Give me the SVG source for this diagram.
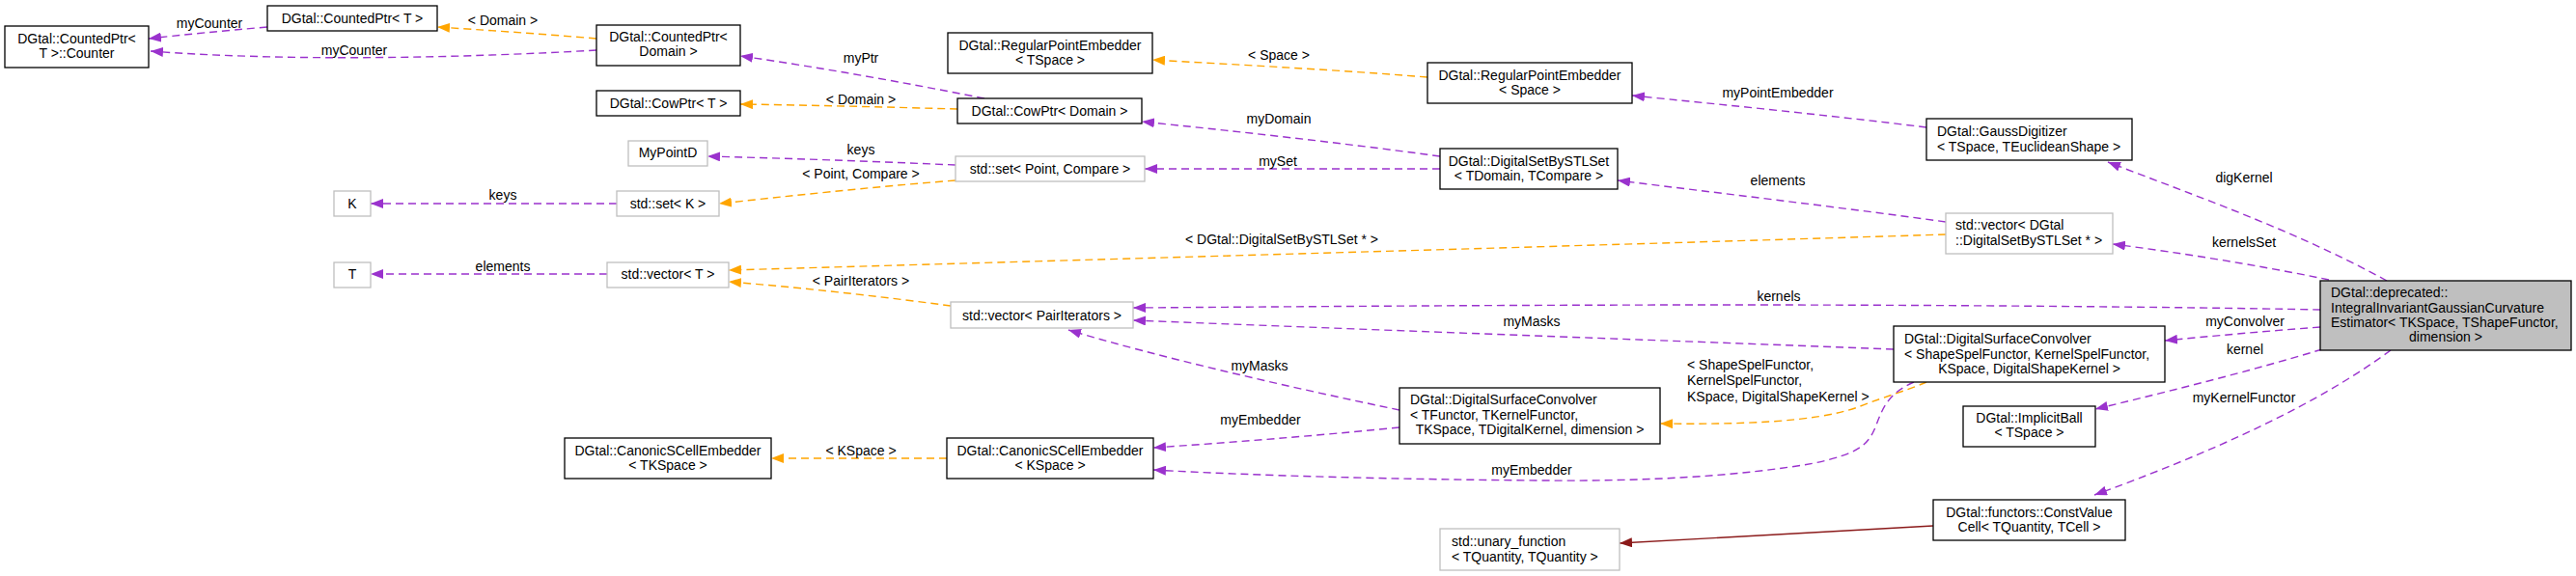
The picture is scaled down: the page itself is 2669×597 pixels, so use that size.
<svg xmlns="http://www.w3.org/2000/svg" width="2669" height="597" viewBox="0 0 2669 597">
<style>
text{font-family:"Liberation Sans",Arial,sans-serif;font-size:14px;fill:#000}
.c{text-anchor:middle}
.b rect{fill:#fff;stroke:#000;stroke-width:1.3}
.g rect{fill:#fff;stroke:#bfbfbf;stroke-width:1.3}
.m rect{fill:#bfbfbf;stroke:#000;stroke-width:1.3}
.p{fill:none;stroke:#9a32cd;stroke-width:1.4;stroke-dasharray:8,5}
.o{fill:none;stroke:#ffa500;stroke-width:1.4;stroke-dasharray:8,5}
.r{fill:none;stroke:#8b1a1a;stroke-width:1.4}
</style>
<defs>
<marker id="ap" markerUnits="userSpaceOnUse" markerWidth="14" markerHeight="10" refX="13" refY="5" orient="auto"><path d="M0,0 L13,5 L0,10 z" fill="#9a32cd"/></marker>
<marker id="ao" markerUnits="userSpaceOnUse" markerWidth="14" markerHeight="10" refX="13" refY="5" orient="auto"><path d="M0,0 L13,5 L0,10 z" fill="#ffa500"/></marker>
<marker id="ar" markerUnits="userSpaceOnUse" markerWidth="14" markerHeight="10" refX="13" refY="5" orient="auto"><path d="M0,0 L13,5 L0,10 z" fill="#8b1a1a"/></marker>
</defs>
<rect width="2669" height="597" fill="#fff"/>
<g id="connectors">
<path class="p" marker-end="url(#ap)" d="M277,28 C230,32 190,36 154,40"/>
<text class="c" x="217" y="29">myCounter</text>
<path class="p" marker-end="url(#ap)" d="M618,52 C480,60 300,64 156,53"/>
<text class="c" x="367" y="57">myCounter</text>
<path class="o" marker-end="url(#ao)" d="M618,40 C560,35 500,31 453,28"/>
<text class="c" x="521" y="26">&lt; Domain &gt;</text>
<path class="p" marker-end="url(#ap)" d="M1020,102 C940,86 850,70 767,58"/>
<text class="c" x="892" y="65">myPtr</text>
<path class="o" marker-end="url(#ao)" d="M992,113 C920,111 840,109 767,108"/>
<text class="c" x="892" y="108">&lt; Domain &gt;</text>
<path class="p" marker-end="url(#ap)" d="M1492,162 C1390,148 1280,136 1183,126"/>
<text class="c" x="1325" y="128">myDomain</text>
<path class="p" marker-end="url(#ap)" d="M1492,175 L1186,175"/>
<text class="c" x="1324" y="172">mySet</text>
<path class="p" marker-end="url(#ap)" d="M990,171 C900,167 810,164 733,162"/>
<text class="c" x="892" y="160">keys</text>
<path class="o" marker-end="url(#ao)" d="M990,187 C900,194 820,203 745,211"/>
<text class="c" x="892" y="185">&lt; Point, Compare &gt;</text>
<path class="p" marker-end="url(#ap)" d="M639,211 L384,211"/>
<text class="c" x="521" y="207">keys</text>
<path class="p" marker-end="url(#ap)" d="M629,284 L384,284"/>
<text class="c" x="521" y="281">elements</text>
<path class="o" marker-end="url(#ao)" d="M2016,243 C1600,256 1100,270 755,280"/>
<text class="c" x="1328" y="253">&lt; DGtal::DigitalSetBySTLSet * &gt;</text>
<path class="o" marker-end="url(#ao)" d="M985,317 C910,307 830,298 755,292"/>
<text class="c" x="892" y="296">&lt; PairIterators &gt;</text>
<path class="p" marker-end="url(#ap)" d="M2016,230 C1900,214 1780,200 1676,187"/>
<text class="c" x="1842" y="192">elements</text>
<path class="p" marker-end="url(#ap)" d="M1996,132 C1900,120 1790,109 1691,99"/>
<text class="c" x="1842" y="101">myPointEmbedder</text>
<path class="o" marker-end="url(#ao)" d="M1479,80 C1380,72 1280,67 1194,62"/>
<text class="c" x="1325" y="62">&lt; Space &gt;</text>
<path class="p" marker-end="url(#ap)" d="M2473,291 C2380,240 2280,205 2184,168"/>
<text class="c" x="2325" y="189">digKernel</text>
<path class="p" marker-end="url(#ap)" d="M2413,290 C2340,275 2260,262 2189,253"/>
<text class="c" x="2325" y="256">kernelsSet</text>
<path class="p" marker-end="url(#ap)" d="M2404,321 C2250,318 2000,316 1800,316 C1550,316 1330,318 1174,319"/>
<text class="c" x="1843" y="312">kernels</text>
<path class="p" marker-end="url(#ap)" d="M1962,362 C1700,352 1400,341 1174,332"/>
<text class="c" x="1587" y="338">myMasks</text>
<path class="p" marker-end="url(#ap)" d="M2404,339 C2350,343 2295,348 2243,353"/>
<text class="c" x="2326" y="338">myConvolver</text>
<path class="p" marker-end="url(#ap)" d="M2406,362 C2330,385 2250,405 2171,424"/>
<text class="c" x="2326" y="367">kernel</text>
<path class="p" marker-end="url(#ap)" d="M2477,363 C2420,405 2330,455 2170,513"/>
<text class="c" x="2325" y="417">myKernelFunctor</text>
<path class="o" marker-end="url(#ao)" d="M1996,396 C1975,405 1950,412 1925,422 C1880,438 1800,440 1720,439"/>
<text x="1748" y="383">&lt; ShapeSpelFunctor,</text>
<text x="1748" y="399">KernelSpelFunctor,</text>
<text x="1748" y="416">KSpace, DigitalShapeKernel &gt;</text>
<path class="p" marker-end="url(#ap)" d="M1983,396 C1955,408 1950,425 1943,443 C1935,462 1925,470 1880,480 C1800,494 1700,499 1600,498 C1450,497 1300,493 1195,487"/>
<text class="c" x="1587" y="492">myEmbedder</text>
<path class="p" marker-end="url(#ap)" d="M1450,425 C1330,400 1200,370 1107,342"/>
<text class="c" x="1305" y="384">myMasks</text>
<path class="p" marker-end="url(#ap)" d="M1450,443 C1360,452 1270,459 1195,464"/>
<text class="c" x="1306" y="440">myEmbedder</text>
<path class="o" marker-end="url(#ao)" d="M981,475 L799,475"/>
<text class="c" x="892" y="472">&lt; KSpace &gt;</text>
<path class="r" marker-end="url(#ar)" d="M2003,545 C1890,551 1780,557 1678,563"/>
</g>
<g id="n_counter" class="b"><rect x="5" y="27" width="149" height="43"/><text class="c" x="79.5" y="45">DGtal::CountedPtr&lt;</text><text class="c" x="79.5" y="60">T &gt;::Counter</text></g>
<g id="n_cptrT" class="b"><rect x="277" y="6" width="176" height="26"/><text class="c" x="365" y="24">DGtal::CountedPtr&lt; T &gt;</text></g>
<g id="n_cptrDomain" class="b"><rect x="618" y="26" width="149" height="42"/><text class="c" x="692.5" y="43">DGtal::CountedPtr&lt;</text><text class="c" x="692.5" y="58">Domain &gt;</text></g>
<g id="n_cowT" class="b"><rect x="618" y="94" width="149" height="26"/><text class="c" x="692.5" y="112">DGtal::CowPtr&lt; T &gt;</text></g>
<g id="n_cowDomain" class="b"><rect x="992" y="102" width="191" height="26"/><text class="c" x="1087.5" y="120">DGtal::CowPtr&lt; Domain &gt;</text></g>
<g id="n_rpeT" class="b"><rect x="982" y="34" width="212" height="42"/><text class="c" x="1088" y="52">DGtal::RegularPointEmbedder</text><text class="c" x="1088" y="67">&lt; TSpace &gt;</text></g>
<g id="n_rpeSpace" class="b"><rect x="1479" y="65" width="212" height="42"/><text class="c" x="1585" y="83">DGtal::RegularPointEmbedder</text><text class="c" x="1585" y="98">&lt; Space &gt;</text></g>
<g id="n_gauss" class="b"><rect x="1996" y="123" width="213" height="43"/><text x="2007" y="141">DGtal::GaussDigitizer</text><text x="2007" y="157">&lt; TSpace, TEuclideanShape &gt;</text></g>
<g id="n_dsstl" class="b"><rect x="1492" y="154" width="184" height="42"/><text class="c" x="1584" y="172">DGtal::DigitalSetBySTLSet</text><text class="c" x="1584" y="187">&lt; TDomain, TCompare &gt;</text></g>
<g id="n_mypoint" class="g"><rect x="651" y="146" width="82" height="26"/><text class="c" x="692" y="163">MyPointD</text></g>
<g id="n_setPC" class="g"><rect x="990" y="162" width="196" height="26"/><text class="c" x="1088" y="180">std::set&lt; Point, Compare &gt;</text></g>
<g id="n_K" class="g"><rect x="346" y="198" width="38" height="26"/><text class="c" x="365" y="216">K</text></g>
<g id="n_setK" class="g"><rect x="639" y="198" width="106" height="26"/><text class="c" x="692" y="216">std::set&lt; K &gt;</text></g>
<g id="n_T" class="g"><rect x="346" y="272" width="38" height="26"/><text class="c" x="365" y="289">T</text></g>
<g id="n_vecT" class="g"><rect x="629" y="272" width="126" height="26"/><text class="c" x="692" y="289">std::vector&lt; T &gt;</text></g>
<g id="n_vecDS" class="g"><rect x="2016" y="221" width="173" height="42"/><text x="2026" y="238">std::vector&lt; DGtal</text><text x="2026" y="254">::DigitalSetBySTLSet * &gt;</text></g>
<g id="n_vecPI" class="g"><rect x="985" y="313" width="189" height="27"/><text class="c" x="1079.5" y="332">std::vector&lt; PairIterators &gt;</text></g>
<g id="n_main" class="m"><rect x="2404" y="291" width="260" height="72"/><text x="2415" y="308">DGtal::deprecated::</text><text x="2415" y="324">IntegralInvariantGaussianCurvature</text><text x="2415" y="339">Estimator&lt; TKSpace, TShapeFunctor,</text><text class="c" x="2534" y="354">dimension &gt;</text></g>
<g id="n_dscShape" class="b"><rect x="1962" y="338" width="281" height="58"/><text x="1973" y="356">DGtal::DigitalSurfaceConvolver</text><text x="1973" y="372">&lt; ShapeSpelFunctor, KernelSpelFunctor,</text><text class="c" x="2102.5" y="387">KSpace, DigitalShapeKernel &gt;</text></g>
<g id="n_dscT" class="b"><rect x="1450" y="402" width="270" height="58"/><text x="1461" y="419">DGtal::DigitalSurfaceConvolver</text><text x="1461" y="435">&lt; TFunctor, TKernelFunctor,</text><text class="c" x="1585" y="450">TKSpace, TDigitalKernel, dimension &gt;</text></g>
<g id="n_cseT" class="b"><rect x="585" y="454" width="214" height="42"/><text class="c" x="692" y="472">DGtal::CanonicSCellEmbedder</text><text class="c" x="692" y="487">&lt; TKSpace &gt;</text></g>
<g id="n_cseK" class="b"><rect x="981" y="454" width="214" height="42"/><text class="c" x="1088" y="472">DGtal::CanonicSCellEmbedder</text><text class="c" x="1088" y="487">&lt; KSpace &gt;</text></g>
<g id="n_ball" class="b"><rect x="2034" y="421" width="137" height="42"/><text class="c" x="2102.5" y="438">DGtal::ImplicitBall</text><text class="c" x="2102.5" y="453">&lt; TSpace &gt;</text></g>
<g id="n_cvc" class="b"><rect x="2003" y="518" width="199" height="42"/><text class="c" x="2102.5" y="536">DGtal::functors::ConstValue</text><text class="c" x="2102.5" y="551">Cell&lt; TQuantity, TCell &gt;</text></g>
<g id="n_unary" class="g"><rect x="1492" y="548" width="186" height="43"/><text x="1504" y="566">std::unary_function</text><text x="1504" y="582">&lt; TQuantity, TQuantity &gt;</text></g>
</svg>
